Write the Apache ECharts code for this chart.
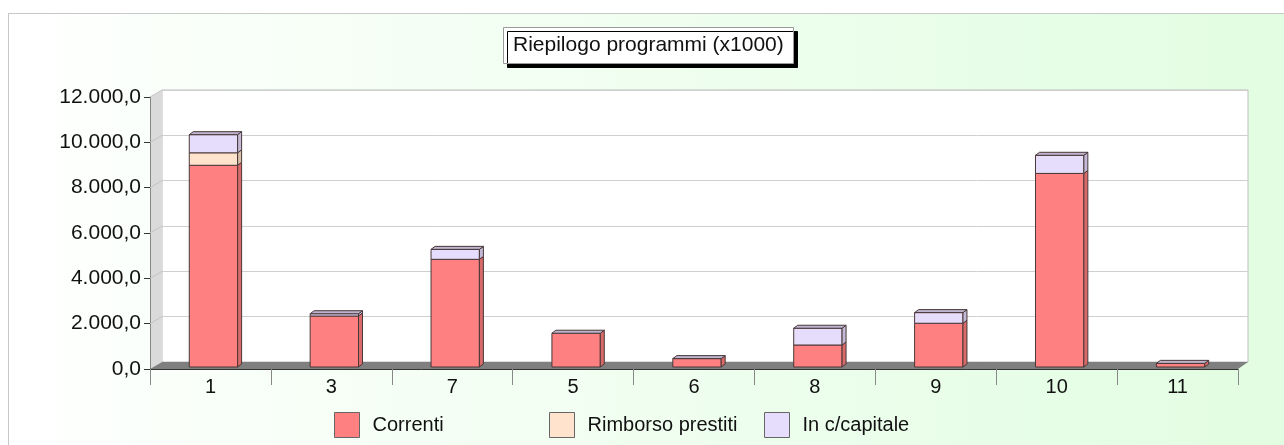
<!DOCTYPE html>
<html>
<head>
<meta charset="utf-8">
<script src="https://cdn.jsdelivr.net/npm/echarts@6/dist/echarts.min.js"></script>
<style>
  html, body { margin: 0; padding: 0; background: #fff; }
  #frame {
    position: absolute; left: 8px; top: 13px; width: 1300px; height: 450px;
    border: 1px solid #c8c8c8;
    background: linear-gradient(to right, #ffffff 0%, #fbfffb 10%, #e1fde1 100%);
  }
  #chart { position: absolute; left: 0; top: 0; width: 1284px; height: 445px; }
</style>
</head>
<body>
<div id="frame"></div>
<div id="chart"></div>
<script>
// categories and values (x1000)
const categories = ['1', '3', '7', '5', '6', '8', '9', '10', '11']
const correnti = [8900, 2250, 4750, 1490, 370, 970, 1930, 8540, 160]
const rimborso = [550, 0, 0, 0, 0, 0, 0, 0, 0]
const capitale = [800, 100, 440, 0, 0, 740, 470, 800, 0]
const yTicks = [0, 2000, 4000, 6000, 8000, 10000, 12000]

const font = 'Liberation Sans, Arial, sans-serif'
const seriesDefs = [
  { name: 'Correnti', values: correnti, front: '#ff8080', side: '#d86a6a' },
  { name: 'Rimborso prestiti', values: rimborso, front: '#ffe3cc', side: '#d8c0aa' },
  { name: 'In c/capitale', values: capitale, front: '#e6dcfc', side: '#c2b9d6' }
]

// wall depth
const DX = 12, DY = 7
const front = { left: 150, right: 46, top: 97, bottom: 76 }
const back = { left: 162, right: 36, top: 90, bottom: 83 }

function fmt (v) {
  return v.toFixed(1).replace('.', ',').replace(/\B(?=(\d{3})+(?!\d))/g, '.')
}

// build stacked data: [category, base, top]
let cum = categories.map(() => 0)
const series = seriesDefs.map((s, si) => {
  const data = s.values.map((v, i) => {
    const base = cum[i]
    cum[i] += v
    return [i, base, cum[i]]
  })
  const isLast = si === seriesDefs.length - 1
  return {
    type: 'custom',
    name: s.name,
    xAxisIndex: 0,
    yAxisIndex: 0,
    itemStyle: { color: s.front },
    encode: { x: 0, y: 2 },
    data: data,
    z: 5,
    renderItem (params, api) {
      const cat = api.value(0)
      const p0 = api.coord([cat, api.value(1)])
      const p1 = api.coord([cat, api.value(2)])
      const w = api.size([1, 0])[0] * 0.4
      const x = p0[0] - w / 2 + 3
      const yb = p0[1] - 2, yt = p1[1] - 2
      const d = 4, dy = 3
      const stroke = '#4a3838'
      const children = []
      if (yb - yt > 0.1) {
        children.push({
          type: 'rect',
          shape: { x: x, y: yt, width: w, height: yb - yt },
          style: { fill: s.front, stroke: stroke, lineWidth: 1 }
        })
        children.push({
          type: 'polygon',
          shape: { points: [[x + w, yt], [x + w + d, yt - dy], [x + w + d, yb - dy], [x + w, yb]] },
          style: { fill: s.side, stroke: stroke, lineWidth: 1 }
        })
      }
      if (isLast) {
        children.push({
          type: 'polygon',
          shape: { points: [[x, yt], [x + d, yt - dy], [x + w + d, yt - dy], [x + w, yt]] },
          style: { fill: '#bdb5cf', stroke: stroke, lineWidth: 1 }
        })
      }
      return { type: 'group', children: children }
    }
  }
})

const chart = echarts.init(document.getElementById('chart'))

const frontH = 445 - front.top - front.bottom
const walls = [
  {
    type: 'polygon', z: 1, silent: true,
    shape: { points: [[front.left + 0.5, front.top], [back.left, back.top], [back.left, 445 - back.bottom], [front.left + 0.5, 445 - front.bottom]] },
    style: { fill: '#dadada' }
  },
  {
    type: 'polygon', z: 1, silent: true,
    shape: { points: [[front.left, 445 - front.bottom], [back.left, 445 - back.bottom], [1284 - back.right, 445 - back.bottom], [1284 - front.right, 445 - front.bottom]] },
    style: { fill: '#7f7f7f' }
  }
]
yTicks.slice(1).forEach(t => {
  const y = front.top + frontH * (1 - t / 12000)
  walls.push({
    type: 'line', z: 1, silent: true,
    shape: { x1: front.left, y1: y, x2: back.left, y2: y - DY },
    style: { stroke: '#c4c4c4', lineWidth: 1 }
  })
})

chart.setOption({
  animation: false,
  textStyle: { fontFamily: font },
  title: {
    text: 'Riepilogo programmi (x1000)',
    left: 503,
    top: 27,
    padding: [8, 10, 8, 10],
    backgroundColor: '#fff',
    borderColor: '#9a9a9a',
    borderWidth: 1,
    shadowColor: '#000',
    shadowBlur: 0,
    shadowOffsetX: 4,
    shadowOffsetY: 4,
    textStyle: { fontFamily: font, fontSize: 21, fontWeight: 'normal', color: '#111' }
  },
  legend: seriesDefs.map((s, i) => ({
    data: [s.name],
    left: [334, 549, 764][i],
    top: 412,
    padding: 0,
    itemWidth: 25,
    itemHeight: 25,
    icon: 'rect',
    itemStyle: { borderColor: '#666', borderWidth: 1 },
    textStyle: { fontFamily: font, fontSize: 20, color: '#111', padding: [0, 0, 0, 8] },
    selectedMode: false
  })),
  graphic: walls,
  grid: [
    { left: front.left, right: front.right, top: front.top, bottom: front.bottom },
    {
      left: back.left, right: back.right, top: back.top, bottom: back.bottom,
      show: true, backgroundColor: '#fff', borderColor: '#bdbdbd', borderWidth: 1
    }
  ],
  xAxis: [
    {
      type: 'category', gridIndex: 0, data: categories,
      axisLine: { lineStyle: { color: '#333' } },
      axisTick: { show: true, length: 16, interval: 0, lineStyle: { color: '#888' } },
      axisLabel: { fontSize: 20, color: '#111', margin: 8, fontFamily: font }
    },
    { type: 'category', gridIndex: 1, data: categories, show: false }
  ],
  yAxis: [
    {
      type: 'value', gridIndex: 0, min: 0, max: 12000, interval: 2000,
      axisLine: { show: true, lineStyle: { color: '#333' } },
      axisTick: { show: true, length: 6, lineStyle: { color: '#333' } },
      splitLine: { show: false },
      axisLabel: { fontSize: 21, color: '#111', margin: 9, fontFamily: font, formatter: fmt }
    },
    {
      type: 'value', gridIndex: 1, min: 0, max: 12000, interval: 2000,
      axisLine: { show: false }, axisTick: { show: false }, axisLabel: { show: false },
      splitLine: { lineStyle: { color: '#cfcfcf' } }
    }
  ],
  series: series
})
</script>
</body>
</html>
